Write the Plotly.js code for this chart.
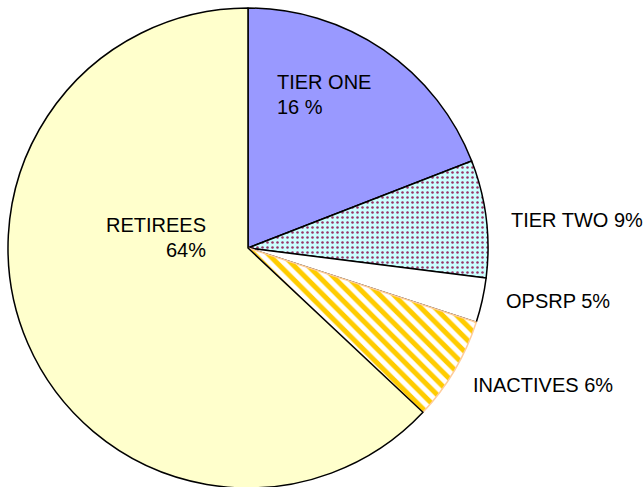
<!DOCTYPE html>
<html>
<head>
<meta charset="utf-8">
<script src="https://cdn.plot.ly/plotly-3.0.1.min.js"></script>
<style>html,body{margin:0;padding:0;overflow:hidden;background:#fff;}</style>
</head>
<body>
<div id="chart" style="width:644px;height:496px;"></div>
<script>
// Data (slice sizes estimated from the drawn angles)
var categories = ["TIER ONE", "TIER TWO", "OPSRP", "INACTIVES", "RETIREES"];
var values = [19.1, 7.9, 3.0, 7.0, 63.0];
var labelLines = [["TIER ONE", "16 %"], ["TIER TWO 9%"], ["OPSRP 5%"], ["INACTIVES 6%"], ["RETIREES", "64%"]];

var W = 644, H = 496;
function px(x) { return x / W; }
function py(y) { return 1 - y / H; }

var trace = {
  type: "pie",
  labels: categories,
  values: values,
  sort: false,
  direction: "clockwise",
  rotation: 0,
  textinfo: "none",
  hoverinfo: "label+percent",
  showlegend: false,
  domain: { x: [px(8), px(488)], y: [py(488), py(8)] },
  marker: {
    colors: ["#9999FF", "#CCFFFF", "#FFFFFF", "#FFFFFF", "#FFFFCC"],
    line: { color: ["#000000", "#000000", "#000000", "#FFCC99", "#000000"], width: 1.5 },
    pattern: {
      shape: ["", ".", "", "\\", ""],
      fgcolor: ["#9999FF", "#993366", "#FFFFFF", "#FFCC00", "#FFFFCC"],
      bgcolor: ["#9999FF", "#CCFFFF", "#FFFFFF", "#FFFFFF", "#FFFFCC"],
      size: [8, 5, 8, 10, 8],
      solidity: [0.3, 0.2, 0.3, 0.5, 0.3],
      fillmode: "replace"
    }
  }
};

// label placement (baseline y of each line, in pixels)
var labelPos = [
  { x: 275, base: [90, 114], xanchor: "left" },
  { x: 509, base: [227], xanchor: "left" },
  { x: 504, base: [308], xanchor: "left" },
  { x: 471, base: [392], xanchor: "left" },
  { x: 208, base: [233, 258], xanchor: "right" }
];

var annotations = [];
labelLines.forEach(function (lines, i) {
  var p = labelPos[i];
  lines.forEach(function (t, j) {
    annotations.push({
      text: t, xref: "paper", yref: "paper",
      x: px(p.x), y: py(p.base[j] - 7.5), xanchor: p.xanchor, yanchor: "middle",
      showarrow: false,
      font: { family: "Liberation Sans, Arial, sans-serif", size: 20, color: "#000000" }
    });
  });
});

var layout = {
  width: W, height: H,
  margin: { l: 0, r: 0, t: 0, b: 0 },
  paper_bgcolor: "#FFFFFF",
  plot_bgcolor: "#FFFFFF",
  annotations: annotations,
  showlegend: false
};

Plotly.newPlot("chart", [trace], layout, { displayModeBar: false, staticPlot: true });
</script>
</body>
</html>
